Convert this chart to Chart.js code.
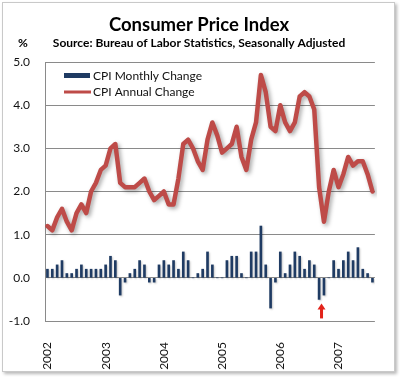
<!DOCTYPE html>
<html><head><meta charset="utf-8">
<script src="https://cdn.jsdelivr.net/npm/chart.js@4"></script>
<style>
html,body{margin:0;padding:0;background:#fff;}
#frame{position:absolute;left:2px;top:2px;width:391px;height:368px;border:1px solid #c9c9c9;box-shadow:2px 2px 3px rgba(0,0,0,0.28);background:#fff;}
#wrap{position:absolute;left:0;top:0;width:400px;height:378px;}
</style></head><body>
<div id="frame"></div>
<div id="wrap"><canvas id="c" width="400" height="378"></canvas></div>
<script>
// ---- data ----
const years = ['2002','2003','2004','2005','2006','2007'];
const monthNames = ['01','02','03','04','05','06','07','08','09','10','11','12'];
const lastMonthCount = 68; // Jan 2002 .. Aug 2007
const categories = [];
years.forEach(y => monthNames.forEach(m => categories.push(y + '-' + m)));
categories.length = lastMonthCount;

const monthlyChange = [
  0.2,0.2,0.3,0.4,0.1,0.1,0.2,0.3,0.2,0.2,0.2,0.2,
  0.3,0.5,0.4,-0.4,-0.1,0.1,0.2,0.4,0.3,-0.1,-0.1,0.3,
  0.4,0.3,0.4,0.2,0.6,0.4,0.0,0.1,0.2,0.6,0.3,0.0,
  0.0,0.4,0.5,0.5,0.1,0.0,0.6,0.6,1.2,0.3,-0.7,-0.1,
  0.6,0.1,0.3,0.6,0.5,0.2,0.4,0.3,-0.5,-0.4,0.0,0.4,
  0.2,0.4,0.6,0.4,0.7,0.2,0.1,-0.1
];
const annualChange = [
  1.2,1.1,1.4,1.6,1.3,1.1,1.5,1.7,1.5,2.0,2.2,2.5,
  2.6,3.0,3.1,2.2,2.1,2.1,2.1,2.2,2.3,2.0,1.8,1.9,
  2.0,1.7,1.7,2.3,3.1,3.2,3.0,2.7,2.5,3.2,3.6,3.3,
  2.9,3.0,3.1,3.5,2.8,2.5,3.2,3.6,4.7,4.3,3.5,3.4,
  4.0,3.6,3.4,3.6,4.2,4.3,4.2,3.9,2.1,1.3,2.0,2.5,
  2.1,2.4,2.8,2.6,2.7,2.7,2.4,2.0
];
const arrowMonths = ['2006-09','2006-10'];

const titleText = 'Consumer Price Index';
const subtitleText = 'Source: Bureau of Labor Statistics, Seasonally Adjusted';
const unitText = '%';
const seriesNames = ['CPI Monthly Change','CPI Annual Change'];

const FONT = 'Lato, "Liberation Sans", sans-serif';
const BAR_COLOR = '#1F3B63';
const LINE_COLOR = '#BE4B48';

const shadowPlugin = {
  id: 'shadow',
  beforeDatasetDraw(chart, args) {
    const ctx = chart.ctx;
    ctx.save();
    if (args.index === 1) {
      ctx.shadowColor = 'rgba(0,0,0,0.35)';
      ctx.shadowBlur = 4; ctx.shadowOffsetX = 2; ctx.shadowOffsetY = 2;
    } else {
      ctx.shadowColor = 'rgba(0,0,0,0.22)';
      ctx.shadowBlur = 2; ctx.shadowOffsetX = 1; ctx.shadowOffsetY = 1;
    }
  },
  afterDatasetDraw(chart) { chart.ctx.restore(); }
};

const decorPlugin = {
  id: 'decor',
  afterDraw(chart) {
    const ctx = chart.ctx;
    ctx.save();
    ctx.fillStyle = '#000';
    ctx.textAlign = 'center';
    ctx.textBaseline = 'alphabetic';
    ctx.font = 'bold 18.5px ' + FONT;
    ctx.fillText(titleText, 199, 31);
    ctx.font = 'bold 12px ' + FONT;
    ctx.fillText(subtitleText, 199, 47);
    ctx.font = 'bold 12px ' + FONT;
    ctx.fillText(unitText, 23, 47);

    // legend
    const lx = chart.chartArea.left + 19;
    ctx.fillStyle = BAR_COLOR;
    ctx.fillRect(lx, 73, 26, 5);
    ctx.strokeStyle = LINE_COLOR; ctx.lineWidth = 3;
    ctx.beginPath(); ctx.moveTo(lx, 92); ctx.lineTo(lx + 27, 92); ctx.stroke();
    ctx.fillStyle = '#111';
    ctx.textAlign = 'left'; ctx.textBaseline = 'middle';
    ctx.font = '12px ' + FONT;
    ctx.fillText(seriesNames[0], lx + 29, 76);
    ctx.fillText(seriesNames[1], lx + 29, 92);

    // arrow
    const xs = chart.scales.x, ys = chart.scales.y;
    const i0 = categories.indexOf(arrowMonths[0]), i1 = categories.indexOf(arrowMonths[1]);
    const ax = (xs.getPixelForValue(i0) + xs.getPixelForValue(i1)) / 2;
    const minV = Math.min(monthlyChange[i0], monthlyChange[i1]);
    const top = ys.getPixelForValue(minV) + 4;
    ctx.fillStyle = '#E2231A';
    ctx.beginPath();
    ctx.moveTo(ax, top); ctx.lineTo(ax + 4, top + 6); ctx.lineTo(ax - 4, top + 6); ctx.closePath(); ctx.fill();
    ctx.fillRect(ax - 1.5, top + 5, 3, 10);
    ctx.restore();
  }
};

new Chart(document.getElementById('c'), {
  type: 'bar',
  data: {
    labels: categories,
    datasets: [
      { type: 'bar', label: seriesNames[0], data: monthlyChange, backgroundColor: BAR_COLOR, barThickness: 2, order: 2 },
      { type: 'line', label: seriesNames[1], data: annualChange, borderColor: LINE_COLOR, borderWidth: 4.5,
        pointRadius: 0, tension: 0, borderJoinStyle: 'round', borderCapStyle: 'round', order: 1 }
    ]
  },
  options: {
    responsive: false, animation: false,
    layout: { padding: { top: 62, right: 19, left: 0, bottom: 0 } },
    plugins: { legend: { display: false }, title: { display: false }, tooltip: { enabled: false } },
    scales: {
      x: {
        grid: { display: false }, border: { display: false },
        ticks: {
          autoSkip: false, maxRotation: 90, minRotation: 90, padding: 13, color: '#111',
          font: { family: FONT, size: 12 },
          callback: (v, i) => categories[i].endsWith('-01') ? categories[i].slice(0, 4) : ''
        },
        afterFit: s => { s.height = 57; }
      },
      y: {
        min: -1, max: 5,
        ticks: { stepSize: 1, padding: 15, color: '#111', font: { family: FONT, size: 12 }, callback: v => v.toFixed(1) },
        grid: { color: '#8a8a8a', drawTicks: false },
        border: { display: true, color: '#8a8a8a' },
        afterFit: s => { s.width = 45; }
      }
    }
  },
  plugins: [shadowPlugin, decorPlugin]
});
</script>
</body></html>
